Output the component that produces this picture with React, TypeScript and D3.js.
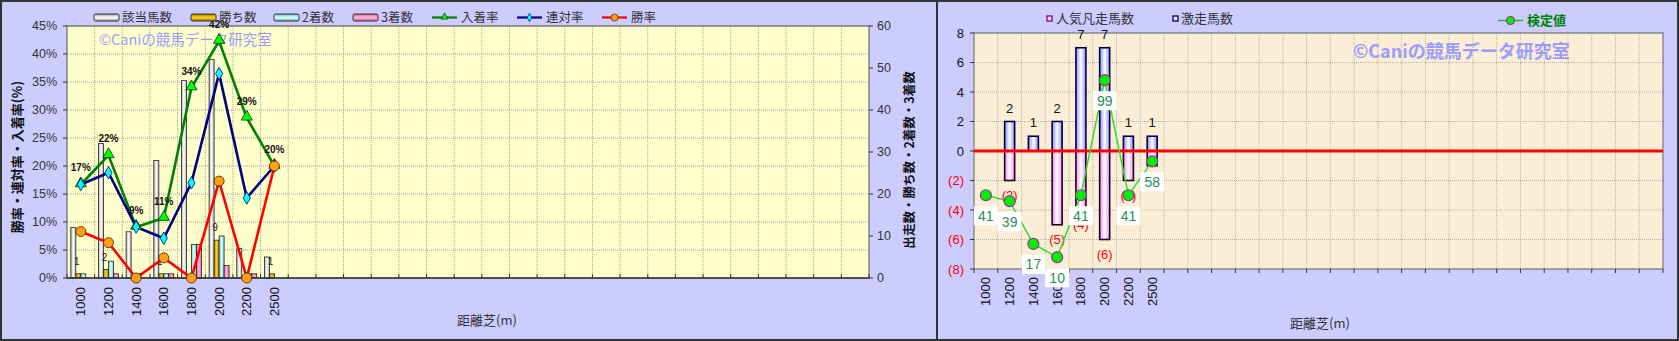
import React from "react";
import * as d3 from "d3";

// ---------- Left chart data ----------
const categories = ["1000", "1200", "1400", "1600", "1800", "2000", "2200", "2500"];
const SLOTS = 29; // category slots on the axis (rest are empty)
const runners = [12, 32, 11, 28, 47, 52, 7, 5]; // 該当馬数
const wins = [1, 2, 0, 1, 0, 9, 0, 1]; // 勝ち数
const seconds = [1, 4, 1, 1, 8, 10, 1, 0]; // 2着数
const thirds = [0, 1, 0, 1, 8, 3, 1, 0]; // 3着数
const placeRate = [16.7, 21.9, 9.1, 10.7, 34.0, 42.3, 28.6, 20.0]; // 入着率
const quinellaRate = [16.7, 18.8, 9.1, 7.1, 17.0, 36.5, 14.3, 20.0]; // 連対率
const winRate = [8.3, 6.3, 0, 3.6, 0, 17.3, 0, 20.0]; // 勝率
const placeRateLabels = ["17%", "22%", "9%", "11%", "34%", "42%", "29%", "20%"];
const pctTicks = [0, 5, 10, 15, 20, 25, 30, 35, 40, 45];
const cntTicks = [0, 10, 20, 30, 40, 50, 60];

// ---------- Right chart data ----------
const upsetCounts = [0, 2, 1, 2, 7, 7, 1, 1]; // 激走馬数
const flopCounts = [0, -2, 0, -5, -4, -6, -2, -1]; // 人気凡走馬数
const testValues = [-3.0, -3.4, -6.3, -7.2, -3.0, 4.8, -3.0, -0.7]; // 検定値 (plotted)
const testLabels = ["41", "39", "17", "10", "41", "99", "41", "58"];
const rightTicks = [-8, -6, -4, -2, 0, 2, 4, 6, 8];

const JP = "'Noto Sans CJK JP', 'Noto Sans', sans-serif";
const NUM = "'Liberation Sans', Arial, sans-serif";

function LeftChart() {
  const L = 67, R = 869, T = 26, B = 278;
  const x = d3.scaleBand<number>().domain(d3.range(SLOTS)).range([L, R]).padding(0);
  const bw = x.bandwidth();
  const cx = (i: number) => (x(i) as number) + bw / 2;
  const yP = d3.scaleLinear().domain([0, 45]).range([B, T]);
  const yC = d3.scaleLinear().domain([0, 60]).range([B, T]);
  const barSeries = [
    { name: "該当馬数", vals: runners, grad: "gWhite", stroke: "#222" },
    { name: "勝ち数", vals: wins, grad: "gGold", stroke: "#222" },
    { name: "2着数", vals: seconds, grad: "gCyan", stroke: "#222" },
    { name: "3着数", vals: thirds, grad: "gPink", stroke: "#222" },
  ];
  const inner = d3.scaleBand<string>().domain(barSeries.map((s) => s.name)).range([-10, 10]).padding(0);
  const line = (vals: number[]) =>
    d3.line<number>().x((_, i) => cx(i)).y((v) => yP(v))(vals) as string;
  const tri = d3.symbol(d3.symbolTriangle, 55)() as string;
  const dia = d3.symbol(d3.symbolDiamond, 45)() as string;

  const legendBars = [
    { x: 94, s: barSeries[0] },
    { x: 191, s: barSeries[1] },
    { x: 274, s: barSeries[2] },
    { x: 353, s: barSeries[3] },
  ];
  const legendLines = [
    { x: 432, name: "入着率", color: "#008000", marker: "tri" },
    { x: 517, name: "連対率", color: "#000080", marker: "dia" },
    { x: 602, name: "勝率", color: "#ff0000", marker: "circ" },
  ];
  const marker = (m: string, px: number, py: number, key?: any) => {
    if (m === "tri")
      return <path key={key} d={tri} transform={`translate(${px},${py})`} fill="#00ff00" stroke="#003300" strokeWidth={0.8} />;
    if (m === "dia")
      return <path key={key} d={dia} transform={`translate(${px},${py})`} fill="#00ffff" stroke="#000080" strokeWidth={0.8} />;
    return <circle key={key} cx={px} cy={py} r={5} fill="#ff9f1a" stroke="#5a3000" strokeWidth={0.9} />;
  };

  return (
    <g>
      <rect x={1} y={1} width={936} height={339} fill="#ccccff" stroke="#333" strokeWidth={2} />
      <rect x={L} y={T} width={R - L} height={B - T} fill="#ffffcc" />
      {/* grid */}
      {pctTicks.slice(1).map((t) => (
        <line key={"h" + t} x1={L} x2={R} y1={yP(t)} y2={yP(t)} stroke="#a0a0a0" strokeDasharray="1,1" />
      ))}
      {d3.range(1, SLOTS).map((i) => (
        <line key={"v" + i} x1={x(i)} x2={x(i)} y1={T} y2={B} stroke="#a0a0a0" strokeDasharray="1,1" />
      ))}
      {/* watermark */}
      <text x={99} y={45} fontFamily={JP} fontSize={14.5} fill="#9c9cff">©Caniの競馬データ研究室</text>
      {/* bars */}
      {barSeries.map((s) =>
        s.vals.map((v, i) =>
          v > 0 ? (
            <rect key={s.name + i} x={cx(i) + (inner(s.name) as number)} width={inner.bandwidth()}
              y={yC(v)} height={yC(0) - yC(v)} fill={`url(#${s.grad})`} stroke={s.stroke} strokeWidth={0.8} />
          ) : null
        )
      )}
      {/* win count labels */}
      {wins.map((v, i) =>
        v > 0 ? (
          <text key={"wl" + i} x={cx(i) + (inner("勝ち数") as number) + 1} y={yC(v) - 9} fontFamily={NUM}
            fontSize={10} textAnchor="middle" fill="#222">{v}</text>
        ) : null
      )}
      {/* axes */}
      <rect x={L} y={T} width={R - L} height={B - T} fill="none" stroke="#555" strokeWidth={1} />
      <line x1={L} x2={R} y1={B} y2={B} stroke="#333" strokeWidth={1.5} />
      {d3.range(0, SLOTS + 1).map((i) => {
        const xx = i === SLOTS ? R : (x(i) as number);
        return <line key={"xt" + i} x1={xx} x2={xx} y1={B} y2={B - 4} stroke="#333" />;
      })}
      {pctTicks.map((t) => (
        <g key={"yt" + t}>
          <line x1={L - 4} x2={L} y1={yP(t)} y2={yP(t)} stroke="#333" />
          <text x={57} y={yP(t)} dy="0.35em" textAnchor="end" fontFamily={NUM} fontSize={12.5} fill="#333">{t}%</text>
        </g>
      ))}
      {cntTicks.map((t) => (
        <g key={"ct" + t}>
          <line x1={R} x2={R + 4} y1={yC(t)} y2={yC(t)} stroke="#333" />
          <text x={877} y={yC(t)} dy="0.35em" textAnchor="start" fontFamily={NUM} fontSize={12.5} fill="#333">{t}</text>
        </g>
      ))}
      {categories.map((c, i) => (
        <text key={"xl" + c} transform={`translate(${cx(i)},${287}) rotate(-90)`} textAnchor="end" dy="0.35em"
          fontFamily={NUM} fontSize={13} fill="#111">{c}</text>
      ))}
      {/* lines */}
      <path d={line(placeRate)} fill="none" stroke="#008000" strokeWidth={2.6} />
      <path d={line(quinellaRate)} fill="none" stroke="#000080" strokeWidth={2.6} />
      <path d={line(winRate)} fill="none" stroke="#ff0000" strokeWidth={2.6} />
      {placeRate.map((v, i) => marker("tri", cx(i), yP(v) - 1, "pt" + i))}
      {quinellaRate.map((v, i) => marker("dia", cx(i), yP(v), "qd" + i))}
      {winRate.map((v, i) => marker("circ", cx(i), yP(v), "wc" + i))}
      {placeRate.map((v, i) => (
        <text key={"pl" + i} x={cx(i)} y={yP(v) - 13} textAnchor="middle" fontFamily={NUM} fontSize={10}
          fontWeight="bold" fill="#111">{placeRateLabels[i]}</text>
      ))}
      {/* legend */}
      {legendBars.map((l) => (
        <g key={"lb" + l.s.name}>
          <rect x={l.x} y={14} width={25} height={7} rx={1.5} fill={`url(#${l.s.grad}V)`} stroke="#222" strokeWidth={0.9} />
          <text x={l.x + 28} y={17.5} dy="0.35em" fontFamily={JP} fontSize={12.5} fill="#333">{l.s.name}</text>
        </g>
      ))}
      {legendLines.map((l) => (
        <g key={"ll" + l.name}>
          <line x1={l.x} x2={l.x + 25} y1={17.5} y2={17.5} stroke={l.color} strokeWidth={2.2} />
          {l.marker === "tri" ? (
            <path d={d3.symbol(d3.symbolTriangle, 22)() as string} transform={`translate(${l.x + 12.5},17)`} fill="#00ff00" stroke="#003300" strokeWidth={0.7} />
          ) : l.marker === "dia" ? (
            <path d={d3.symbol(d3.symbolDiamond, 20)() as string} transform={`translate(${l.x + 12.5},17.5)`} fill="#00ffff" stroke="#000080" strokeWidth={0.7} />
          ) : (
            <circle cx={l.x + 12.5} cy={17.5} r={3.5} fill="#ff9f1a" stroke="#5a3000" strokeWidth={0.8} />
          )}
          <text x={l.x + 29} y={17.5} dy="0.35em" fontFamily={JP} fontSize={12.5} fill="#333">{l.name}</text>
        </g>
      ))}
      {/* axis titles */}
      <text transform="translate(17,157) rotate(-90)" textAnchor="middle" dy="0.35em" fontFamily={JP}
        fontSize={13} fontWeight="bold" fill="#111">勝率・連対率・入着率(%)</text>
      <text transform="translate(910,160) rotate(-90)" textAnchor="middle" dy="0.35em" fontFamily={JP}
        fontSize={12.5} fontWeight="bold" fill="#111">出走数・勝ち数・2着数・3着数</text>
      <text x={487} y={320} textAnchor="middle" dy="0.35em" fontFamily={JP} fontSize={13} fill="#333">距離芝(m)</text>
    </g>
  );
}

function RightChart() {
  const L = 974, R = 1663, T = 33, B = 269;
  const x = d3.scaleBand<number>().domain(d3.range(SLOTS)).range([L, R]).padding(0);
  const bw = x.bandwidth();
  const cx = (i: number) => (x(i) as number) + bw / 2;
  const y = d3.scaleLinear().domain([-8, 8]).range([B, T]);
  const barW = 10;
  const testLine = d3.line<number>().x((_, i) => cx(i)).y((v) => y(v))(testValues) as string;
  const fmt = (t: number) => (t < 0 ? `(${-t})` : `${t}`);

  return (
    <g>
      <rect x={937} y={1} width={741} height={339} fill="#ccccff" stroke="#333" strokeWidth={2} />
      <rect x={L} y={T} width={R - L} height={B - T} fill="#faefd6" />
      {rightTicks.map((t) => (
        <line key={"h" + t} x1={L} x2={R} y1={y(t)} y2={y(t)} stroke="#b8b0a0" strokeDasharray="1,1" />
      ))}
      {d3.range(1, SLOTS).map((i) => (
        <line key={"v" + i} x1={x(i)} x2={x(i)} y1={T} y2={B} stroke="#b8b0a0" strokeDasharray="1,1" />
      ))}
      <text x={1353} y={58} fontFamily={JP} fontSize={18} fontWeight="bold" fill="#9c9cff">©Caniの競馬データ研究室</text>
      <rect x={L} y={T} width={R - L} height={B - T} fill="none" stroke="#777" strokeWidth={1.2} />
      {/* bars */}
      {upsetCounts.map((v, i) =>
        v > 0 ? (
          <rect key={"u" + i} x={cx(i) - barW / 2} width={barW} y={y(v)} height={y(0) - y(v)}
            fill="url(#gBlue)" stroke="#000040" strokeWidth={1.6} />
        ) : null
      )}
      {flopCounts.map((v, i) =>
        v < 0 ? (
          <rect key={"f" + i} x={cx(i) - barW / 2} width={barW} y={y(0)} height={y(v) - y(0)}
            fill="url(#gMag)" stroke="#200020" strokeWidth={1.6} />
        ) : null
      )}
      <line x1={L} x2={R} y1={y(0)} y2={y(0)} stroke="#ff0000" strokeWidth={3} />
      {upsetCounts.map((v, i) =>
        v > 0 ? (
          <text key={"ul" + i} x={cx(i)} y={y(v) - 9} textAnchor="middle" fontFamily={NUM} fontSize={13} fill="#111">{v}</text>
        ) : null
      )}
      {flopCounts.map((v, i) =>
        v < 0 ? (
          <text key={"fl" + i} x={cx(i)} y={y(v) + 19} textAnchor="middle" fontFamily={NUM} fontSize={13} fill="#ff0000">{fmt(v)}</text>
        ) : null
      )}
      {/* axes */}
      {rightTicks.map((t) => (
        <g key={"yt" + t}>
          <line x1={L - 4} x2={L} y1={y(t)} y2={y(t)} stroke="#333" />
          <text x={964} y={y(t)} dy="0.35em" textAnchor="end" fontFamily={NUM} fontSize={13}
            fill={t < 0 ? "#ff0000" : "#111"}>{fmt(t)}</text>
        </g>
      ))}
      {d3.range(0, SLOTS + 1).map((i) => {
        const xx = i === SLOTS ? R : (x(i) as number);
        return <line key={"xt" + i} x1={xx} x2={xx} y1={B} y2={B + 4} stroke="#333" />;
      })}
      {categories.map((c, i) => (
        <text key={"xl" + c} transform={`translate(${cx(i)},${277}) rotate(-90)`} textAnchor="end" dy="0.35em"
          fontFamily={NUM} fontSize={13} fill="#111">{c}</text>
      ))}
      {/* test value line */}
      <path d={testLine} fill="none" stroke="#33dd33" strokeWidth={1.5} />
      {testValues.map((v, i) => (
        <circle key={"tc" + i} cx={cx(i)} cy={y(v)} r={5.5} fill="#00ee00" stroke="#993399" strokeWidth={1.2} />
      ))}
      {testValues.map((v, i) => (
        <g key={"tl" + i}>
          <rect x={cx(i) - 12} y={y(v) + 11} width={24} height={19} fill="#ffffff" />
          <text x={cx(i)} y={y(v) + 20.5} dy="0.35em" textAnchor="middle" fontFamily={NUM} fontSize={14} fill="#2e8b57">{testLabels[i]}</text>
        </g>
      ))}
      {/* legend */}
      <rect x={1047} y={16} width={5} height={5} fill="#ffe0ff" stroke="#800080" strokeWidth={1.3} />
      <text x={1056} y={18.5} dy="0.35em" fontFamily={JP} fontSize={13} fill="#333">人気凡走馬数</text>
      <rect x={1173} y={16} width={5} height={5} fill="#e8e8ff" stroke="#000050" strokeWidth={1.3} />
      <text x={1181} y={18.5} dy="0.35em" fontFamily={JP} fontSize={13} fill="#333">激走馬数</text>
      <line x1={1498} x2={1523} y1={20.5} y2={20.5} stroke="#22bb22" strokeWidth={1.5} />
      <circle cx={1510.5} cy={20.5} r={4} fill="#00ee00" stroke="#993399" strokeWidth={1.2} />
      <text x={1527} y={20.5} dy="0.35em" fontFamily={JP} fontSize={13} fontWeight="bold" fill="#008000">検定値</text>
      <text x={1320} y={323} textAnchor="middle" dy="0.35em" fontFamily={JP} fontSize={13} fill="#333">距離芝(m)</text>
    </g>
  );
}

function Grad({ id, edge, mid, vertical }: { id: string; edge: string; mid: string; vertical?: boolean }) {
  return (
    <linearGradient id={id} x1="0" y1="0" x2={vertical ? "0" : "1"} y2={vertical ? "1" : "0"}>
      <stop offset="0" stopColor={edge} />
      <stop offset="0.5" stopColor={mid} />
      <stop offset="1" stopColor={edge} />
    </linearGradient>
  );
}

export default function App() {
  return (
    <svg width={1679} height={341} style={{ position: "absolute", left: 0, top: 0, display: "block" }}>
      <defs>
        <Grad id="gWhite" edge="#b0b0b0" mid="#ffffff" />
        <Grad id="gGold" edge="#b08800" mid="#ffd21a" />
        <Grad id="gCyan" edge="#80cccc" mid="#d8ffff" />
        <Grad id="gPink" edge="#d86aa0" mid="#ffb8dc" />
        <Grad id="gWhiteV" edge="#a0a0a0" mid="#ffffff" vertical />
        <Grad id="gGoldV" edge="#a07c00" mid="#ffd21a" vertical />
        <Grad id="gCyanV" edge="#70b8b8" mid="#d8ffff" vertical />
        <Grad id="gPinkV" edge="#d06090" mid="#ffb8dc" vertical />
        <Grad id="gBlue" edge="#8c8cff" mid="#ffffff" />
        <Grad id="gMag" edge="#f08cf0" mid="#ffffff" />
      </defs>
      <LeftChart />
      <RightChart />
    </svg>
  );
}
